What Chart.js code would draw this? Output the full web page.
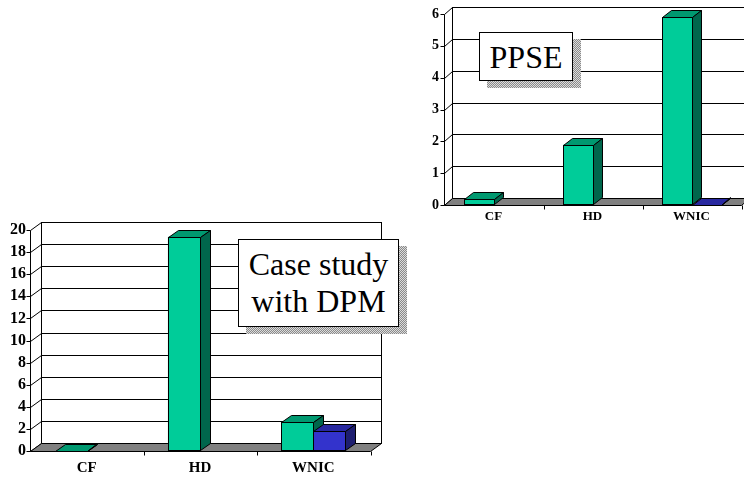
<!DOCTYPE html>
<html>
<head>
<meta charset="utf-8">
<script src="https://cdn.jsdelivr.net/npm/chart.js@4"></script>
<style>
  html, body { margin: 0; padding: 0; background: #fff; overflow: hidden; }
  #wrap { position: relative; width: 744px; height: 478px; overflow: hidden; background: #fff; }
  canvas { position: absolute; }
  .shadow { position: absolute; background: repeating-conic-gradient(#8a8a8a 0 25%, #dcdcdc 0 50%) 0 0 / 2px 2px; }
  .note {
    position: absolute; box-sizing: border-box; border: 1px solid #000; background: #fff;
    font-family: "Liberation Serif", "Times New Roman", serif; font-size: 32px; color: #000;
    display: flex; align-items: center; justify-content: center; text-align: center;
  }
</style>
</head>
<body>
<div id="wrap">
  <canvas id="ppse" width="330" height="240" style="left:420px;top:0px"></canvas>
  <canvas id="dpm" width="410" height="263" style="left:0px;top:215px"></canvas>
  <div class="shadow" style="left:487px;top:39px;width:94px;height:49px"></div>
  <div class="note" style="left:479px;top:32px;width:94px;height:49px;line-height:1">PPSE</div>
  <div class="shadow" style="left:246px;top:246px;width:161px;height:88px"></div>
  <div class="note" style="left:238px;top:239px;width:161px;height:88px;line-height:37px">Case study<br>with DPM</div>
</div>
<script>
// Categories and measured values
const categories = ['CF', 'HD', 'WNIC'];

const ppseFront = [0.18, 1.9, 5.9];
const ppseBack  = [null, null, 0];
const ppseTicks = [0, 1, 2, 3, 4, 5, 6];

const dpmFront = [0, 19.4, 2.6];
const dpmBack  = [null, null, 1.8];
const dpmTicks = [0, 2, 4, 6, 8, 10, 12, 14, 16, 18, 20];

const palette = [
  { front: '#00CC99', top: '#009970', side: '#00664C' },
  { front: '#3333CC', top: '#2828A0', side: '#1E1E70' }
];

function seg(ctx, x1, y1, x2, y2) {
  ctx.beginPath(); ctx.moveTo(x1, y1); ctx.lineTo(x2, y2); ctx.stroke();
}
function poly(ctx, pts, fill) {
  ctx.beginPath();
  ctx.moveTo(pts[0][0], pts[0][1]);
  for (let i = 1; i < pts.length; i++) ctx.lineTo(pts[i][0], pts[i][1]);
  ctx.closePath();
  if (fill) { ctx.fillStyle = fill; ctx.fill(); }
  ctx.stroke();
}

// Walls, floor, gridlines and 3D column faces
const boxed3D = {
  id: 'boxed3D',
  beforeDatasetsDraw(chart, args, o) {
    const { ctx, chartArea: a, scales: { x, y } } = chart;
    const wx = o.wx, wy = o.wy;
    const L = a.left + 0.5, R = a.right + 0.5;
    const T = Math.round(y.getPixelForValue(y.max)) + 0.5;
    const B = Math.round(y.getPixelForValue(0)) + 0.5;
    ctx.save();
    ctx.strokeStyle = '#000';
    ctx.lineWidth = 1;
    // back wall
    ctx.fillStyle = '#fff';
    ctx.fillRect(L + wx, T - wy, R - L, B - T);
    ctx.strokeRect(L + wx, T - wy, R - L, B - T);
    // gridlines on back wall and side wall, tick marks on front axis
    y.ticks.forEach(t => {
      const py = Math.round(y.getPixelForValue(t.value)) + 0.5;
      seg(ctx, L + wx, py - wy, R + wx, py - wy);
      seg(ctx, L, py, L + wx, py - wy);
      seg(ctx, L - 4, py, L, py);
    });
    // front vertical axis
    seg(ctx, L, T, L, B);
    // floor
    poly(ctx, [[L, B], [R, B], [R + wx, B - wy], [L + wx, B - wy]], '#808080');
    // category separators
    const n = x.ticks.length;
    const cw = (R - L) / n;
    for (let i = 1; i <= n; i++) {
      const px = Math.round(L + cw * i) + 0.5;
      seg(ctx, px, B, px, B + 4);
    }
    ctx.restore();
  },
  afterDatasetsDraw(chart, args, o) {
    const { ctx } = chart;
    const bx = o.bx, by = o.by;
    const sets = chart.data.datasets;
    ctx.save();
    ctx.strokeStyle = '#000';
    ctx.lineWidth = 1;
    ctx.lineJoin = 'miter';
    for (let i = 0; i < chart.data.labels.length; i++) {
      sets.forEach((ds, d) => {
        if (ds.data[i] == null) return;
        const el = chart.getDatasetMeta(d).data[i];
        const p = el.getProps(['x', 'y', 'base', 'width'], true);
        const c = palette[d];
        const x0 = Math.round(p.x - p.width / 2) + 0.5;
        const x1 = Math.round(p.x + p.width / 2) + 0.5;
        const yt = Math.round(p.y) + 0.5;
        const yb = Math.round(p.base) - 0.5;
        // front
        ctx.fillStyle = c.front;
        ctx.fillRect(x0, yt, x1 - x0, Math.max(0, yb - yt));
        ctx.strokeRect(x0, yt, x1 - x0, Math.max(0, yb - yt));
        // top
        poly(ctx, [[x0, yt], [x1, yt], [x1 + bx, yt - by], [x0 + bx, yt - by]], c.top);
        // side
        poly(ctx, [[x1, yt], [x1 + bx, yt - by], [x1 + bx, yb - by], [x1, Math.max(yt, yb)]], c.side);
      });
    }
    ctx.restore();
  }
};

function build(id, front, back, ticks, geo) {
  const fam = '"Liberation Serif", "Times New Roman", serif';
  return new Chart(document.getElementById(id), {
    type: 'bar',
    data: {
      labels: categories,
      datasets: [
        { data: front, backgroundColor: palette[0].front, borderWidth: 0 },
        { data: back, backgroundColor: palette[1].front, borderWidth: 0 }
      ]
    },
    options: {
      responsive: false,
      animation: false,
      events: [],
      layout: { padding: { top: geo.top, right: geo.right, left: 0, bottom: 0 } },
      datasets: { bar: { categoryPercentage: geo.cat, barPercentage: 1 } },
      plugins: {
        legend: { display: false },
        tooltip: { enabled: false },
        boxed3D: { wx: geo.wx, wy: geo.wy, bx: geo.bx, by: geo.by }
      },
      scales: {
        x: {
          grid: { display: false, drawTicks: false },
          border: { display: false },
          ticks: { color: '#000', padding: geo.xpad, maxRotation: 0, autoSkip: false, font: { family: fam, weight: 'bold', size: geo.xfont } },
          afterFit: s => { s.height = geo.xh; }
        },
        y: {
          min: ticks[0],
          max: ticks[ticks.length - 1],
          grid: { display: false, drawTicks: false },
          border: { display: false },
          afterBuildTicks: s => { s.ticks = ticks.map(v => ({ value: v })); },
          ticks: { color: '#000', padding: geo.ypad, autoSkip: false, font: { family: fam, weight: 'bold', size: geo.yfont } },
          afterFit: s => { s.width = geo.yw; }
        }
      }
    },
    plugins: [boxed3D]
  });
}

build('ppse', ppseFront, ppseBack, ppseTicks, {
  top: 14, right: 9, yw: 24, xh: 35, cat: 0.587,
  wx: 8, wy: 7, bx: 9, by: 7, xpad: 4, ypad: 5, xfont: 13, yfont: 14
});
build('dpm', dpmFront, dpmBack, dpmTicks, {
  top: 15, right: 40, yw: 30, xh: 27, cat: 0.566,
  wx: 11, wy: 8, bx: 10, by: 7, xpad: 8, ypad: 4, xfont: 15, yfont: 16
});
</script>
</body>
</html>
